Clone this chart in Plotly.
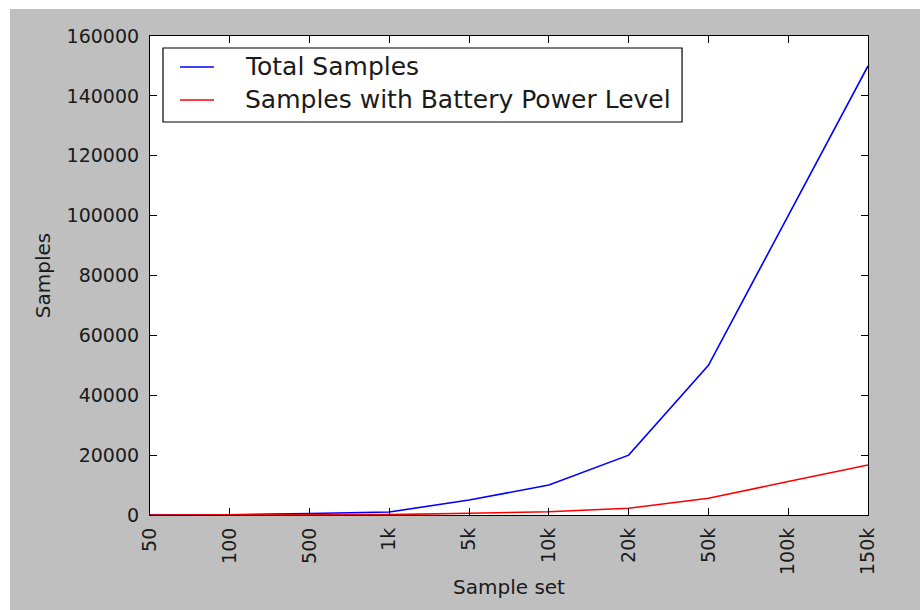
import plotly.graph_objects as go

# Sample-set sizes and counts
sample_sets = ["50", "100", "500", "1k", "5k", "10k", "20k", "50k", "100k", "150k"]
total_samples = [50, 100, 500, 1000, 5000, 10000, 20000, 50000, 100000, 150000]
battery_samples = [6, 11, 55, 110, 560, 1100, 2250, 5600, 11200, 16700]
y_ticks = [0, 20000, 40000, 60000, 80000, 100000, 120000, 140000, 160000]

series_names = ["Total Samples", "Samples with Battery Power Level"]
series_colors = ["#0000ff", "#ff0000"]

positions = list(range(len(sample_sets)))
FONT = "DejaVu Sans"
TEXT = "#1a1a1a"

fig = go.Figure()
for name, values, color in zip(series_names, [total_samples, battery_samples], series_colors):
    fig.add_trace(go.Scatter(
        x=positions, y=values, mode="lines", name=name,
        line=dict(color=color, width=1.6), showlegend=False,
    ))

axis_common = dict(
    showline=True, linecolor="#000000", linewidth=1.2, mirror="allticks",
    ticks="inside", ticklen=7, tickcolor="#000000", tickwidth=1,
    showgrid=False, zeroline=False,
    tickfont=dict(family=FONT, size=19, color=TEXT),
)

fig.update_xaxes(
    **axis_common,
    range=[0, len(sample_sets) - 1],
    tickmode="array", tickvals=positions, ticktext=sample_sets,
    tickangle=-90, ticklabelstandoff=4,
    title=dict(text="Sample set", font=dict(family=FONT, size=20, color=TEXT),
               standoff=6),
)
fig.update_yaxes(
    **axis_common,
    range=[0, 160000],
    tickmode="array", tickvals=y_ticks, ticktext=[str(v) for v in y_ticks],
    ticklabelstandoff=6,
    title=dict(text="Samples", font=dict(family=FONT, size=20, color=TEXT),
               standoff=10),
)

# white strips along the top and left edges of the figure
fig.add_shape(type="rect", xref="paper", yref="paper", x0=-0.25, x1=1.2,
              y0=1.0564, y1=1.1, fillcolor="white", line_width=0, layer="below")
fig.add_shape(type="rect", xref="paper", yref="paper", x0=-0.25, x1=-0.195,
              y0=-0.3, y1=1.1, fillcolor="white", line_width=0, layer="below")

# legend box in the upper-left corner of the axes
fig.add_shape(type="rect", xref="paper", yref="paper",
              x0=0.0181, x1=0.7410, y0=0.8205, y1=0.9750,
              fillcolor="#ffffff", line=dict(color="#000000", width=1.2), layer="above")
row_y = [0.9353, 0.8664]
for name, color, yy in zip(series_names, series_colors, row_y):
    fig.add_shape(type="line", xref="paper", yref="paper",
                  x0=0.0418, x1=0.0891, y0=yy, y1=yy,
                  line=dict(color=color, width=1.6), layer="above")
    fig.add_annotation(xref="paper", yref="paper", x=0.1295, y=yy,
                       xanchor="left", yanchor="middle", text=name, showarrow=False,
                       font=dict(family=FONT, size=25, color=TEXT))

fig.update_layout(
    width=920, height=610,
    margin=dict(l=150, r=52, t=36, b=95),
    paper_bgcolor="#bfbfbf", plot_bgcolor="#ffffff",
    font=dict(family=FONT, color=TEXT),
    showlegend=False,
)

fig.write_html("out.html")
